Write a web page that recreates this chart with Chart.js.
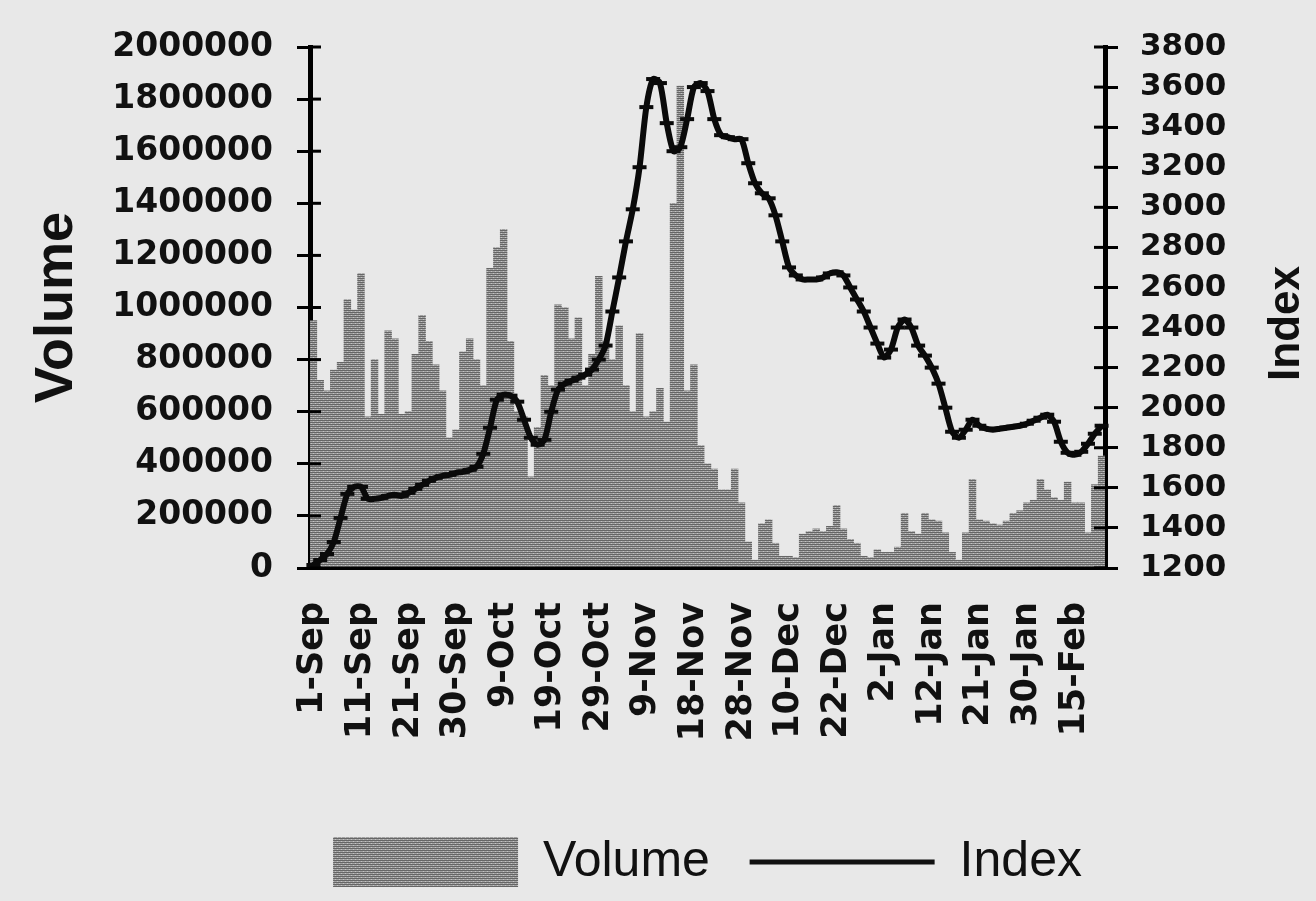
<!DOCTYPE html>
<html lang="en">
<head>
    <meta charset="UTF-8">
    <title>Volume and Index</title>
    <script src="https://cdn.jsdelivr.net/npm/chart.js"></script>
    <style>
        html, body { margin: 0; padding: 0; background: #e8e8e8; }
        canvas { display: block; }
    </style>
</head>
<body>
    <canvas id="chart" width="1316" height="901"></canvas>

    <script>
        // tick labels, one every 7 trading days
        const tickLabels = ['1-Sep', '11-Sep', '21-Sep', '30-Sep', '9-Oct', '19-Oct', '29-Oct', '9-Nov',
            '18-Nov', '28-Nov', '10-Dec', '22-Dec', '2-Jan', '12-Jan', '21-Jan', '30-Jan', '15-Feb'];

        const volume = [
            950000, 720000, 680000, 760000, 790000, 1030000, 990000, 1130000, 580000, 800000,
            590000, 910000, 880000, 590000, 600000, 820000, 970000, 870000, 780000, 680000,
            500000, 530000, 830000, 880000, 800000, 700000, 1150000, 1230000, 1300000, 870000,
            600000, 580000, 350000, 540000, 740000, 700000, 1010000, 1000000, 880000, 960000,
            700000, 820000, 1120000, 870000, 800000, 930000, 700000, 600000, 900000, 580000,
            600000, 690000, 560000, 1400000, 1850000, 680000, 780000, 470000, 400000, 380000,
            300000, 300000, 380000, 250000, 100000, 30000, 170000, 185000, 95000, 45000,
            45000, 40000, 130000, 140000, 150000, 140000, 160000, 240000, 150000, 110000,
            95000, 45000, 40000, 70000, 60000, 60000, 80000, 210000, 140000, 130000,
            210000, 185000, 180000, 135000, 60000, 30000, 135000, 340000, 185000, 180000,
            170000, 165000, 180000, 210000, 220000, 250000, 260000, 340000, 300000, 270000,
            260000, 330000, 250000, 250000, 135000, 320000, 430000
        ];

        const indexValues = [
            1215, 1240, 1270, 1330, 1450, 1570, 1605, 1605, 1545, 1545,
            1550, 1560, 1565, 1560, 1575, 1595, 1615, 1635, 1650, 1660,
            1665, 1675, 1680, 1690, 1705, 1770, 1900, 2040, 2065, 2060,
            2030, 1940, 1850, 1815, 1840, 1980, 2090, 2120, 2135, 2150,
            2165, 2190, 2240, 2310, 2480, 2650, 2830, 2990, 3200, 3500,
            3640, 3620, 3420, 3280, 3300, 3440, 3600, 3620, 3580, 3440,
            3360, 3350, 3340, 3340, 3220, 3120, 3070, 3045, 2960, 2830,
            2700, 2660, 2640, 2640, 2640, 2650, 2670, 2676, 2660, 2600,
            2540, 2480, 2400, 2320, 2250, 2290, 2400, 2440, 2400, 2310,
            2260, 2200, 2120, 2000, 1880, 1850, 1890, 1940, 1910, 1895,
            1890, 1895, 1900, 1905, 1910, 1920, 1935, 1950, 1965, 1930,
            1830, 1775, 1765, 1780, 1820, 1870, 1910
        ];

        const categories = volume.map((_, i) => (i % 7 === 0 ? tickLabels[i / 7] : ''));

        const canvas = document.getElementById('chart');
        const ctx = canvas.getContext('2d');

        // dithered grey fill like the scanned bars
        function makeFill() {
            const c = document.createElement('canvas');
            c.width = 4;
            c.height = 4;
            const g = c.getContext('2d');
            g.fillStyle = '#a2a2a2';
            g.fillRect(0, 0, 4, 4);
            g.fillStyle = '#666666';
            g.fillRect(0, 0, 4, 1);
            g.fillRect(0, 2, 4, 1);
            g.fillStyle = '#c4c4c4';
            g.fillRect(1, 1, 1, 1);
            g.fillRect(3, 3, 1, 1);
            return ctx.createPattern(c, 'repeat');
        }
        const barFill = makeFill();

        // short tick marks on the inner side of both value axes
        const innerTicks = {
            id: 'innerTicks',
            afterDraw(chart) {
                const c = chart.ctx;
                c.save();
                c.strokeStyle = '#000';
                c.lineWidth = 3;
                [chart.scales.y, chart.scales.y1].forEach(s => {
                    const left = s.position === 'left';
                    const x0 = left ? s.right : s.left;
                    const dir = left ? 1 : -1;
                    s.ticks.forEach((t, k) => {
                        const py = s.getPixelForTick(k);
                        c.beginPath();
                        c.moveTo(x0, py);
                        c.lineTo(x0 + dir * 11, py);
                        c.stroke();
                    });
                });
                // right axis title, reading bottom to top
                const r = chart.scales.y1;
                const area = chart.chartArea;
                c.translate(r.right - 29, (area.top + area.bottom) / 2 + 16);
                c.rotate(-Math.PI / 2);
                c.fillStyle = '#111';
                c.font = 'bold 44px "Liberation Sans"';
                c.textAlign = 'center';
                c.textBaseline = 'middle';
                c.fillText('Index', 0, 0);
                c.restore();
            }
        };

        new Chart(ctx, {
            type: 'bar',
            data: {
                labels: categories,
                datasets: [{
                    label: 'Volume',
                    data: volume,
                    yAxisID: 'y',
                    backgroundColor: barFill,
                    borderWidth: 0,
                    barPercentage: 1,
                    categoryPercentage: 1,
                    order: 2
                }, {
                    type: 'line',
                    label: 'Index',
                    data: indexValues,
                    yAxisID: 'y1',
                    borderColor: '#0a0a0a',
                    borderWidth: 6,
                    tension: 0.25,
                    pointStyle: 'line',
                    pointRadius: 7,
                    pointBorderWidth: 4,
                    pointBorderColor: '#0a0a0a',
                    order: 1
                }]
            },
            options: {
                responsive: false,
                devicePixelRatio: 1,
                animation: false,
                layout: { padding: { top: 47, left: 0, right: 0, bottom: 4 } },
                plugins: {
                    tooltip: { enabled: false },
                    legend: {
                        position: 'bottom',
                        fullSize: false,
                        labels: {
                            usePointStyle: true,
                            pointStyleWidth: 185,
                            boxHeight: 58,
                            padding: 12,
                            color: '#111',
                            font: { family: 'Liberation Sans', size: 50 },
                            generateLabels(chart) {
                                const items = Chart.defaults.plugins.legend.labels.generateLabels(chart);
                                items.sort((a, b) => a.datasetIndex - b.datasetIndex);
                                items.forEach(it => {
                                    if (it.datasetIndex === 0) {
                                        it.pointStyle = 'rect';
                                        it.fillStyle = barFill;
                                        it.lineWidth = 0;
                                        it.text = 'Volume  ';
                                    } else {
                                        it.pointStyle = 'line';
                                        it.strokeStyle = '#111';
                                        it.lineWidth = 5;
                                    }
                                });
                                return items;
                            }
                        }
                    }
                },
                scales: {
                    x: {
                        offset: true,
                        grid: { drawOnChartArea: false, drawTicks: false },
                        border: { color: '#000', width: 4 },
                        ticks: {
                            autoSkip: false,
                            minRotation: 90,
                            maxRotation: 90,
                            padding: 34,
                            color: '#111',
                            font: { family: 'DejaVu Sans', weight: 'bold', size: 35 }
                        },
                        afterFit(s) { s.height = 257; }
                    },
                    y: {
                        position: 'left',
                        min: 0,
                        max: 2000000,
                        ticks: {
                            stepSize: 200000,
                            autoSkip: false,
                            padding: 24,
                            color: '#111',
                            font: { family: 'DejaVu Sans', weight: 'bold', size: 33 },
                            callback: v => String(v)
                        },
                        grid: { drawOnChartArea: false, color: '#000', lineWidth: 3, tickLength: 13 },
                        border: { color: '#000', width: 5 },
                        title: {
                            display: true,
                            text: 'Volume',
                            color: '#111',
                            font: { family: 'Liberation Sans', weight: 'bold', size: 54 },
                            padding: { top: 25, bottom: 0 }
                        },
                        afterFit(s) { s.width = 310; }
                    },
                    y1: {
                        position: 'right',
                        min: 1200,
                        max: 3800,
                        ticks: {
                            stepSize: 200,
                            autoSkip: false,
                            padding: 22,
                            color: '#111',
                            font: { family: 'DejaVu Sans', weight: 'bold', size: 31 },
                            callback: v => String(v)
                        },
                        grid: { drawOnChartArea: false, color: '#000', lineWidth: 3, tickLength: 13 },
                        border: { color: '#000', width: 5 },
                        afterFit(s) { s.width = 211; }
                    }
                }
            },
            plugins: [innerTicks]
        });
    </script>
</body>
</html>
